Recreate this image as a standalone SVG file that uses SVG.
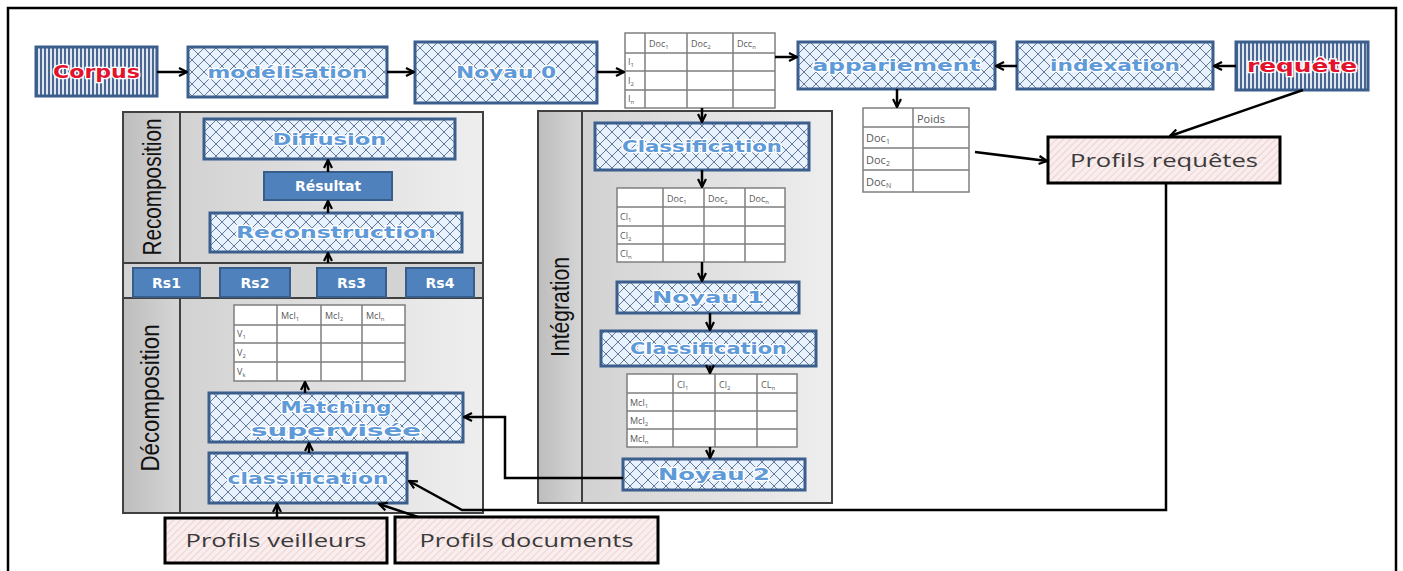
<svg xmlns="http://www.w3.org/2000/svg" width="1403" height="571" viewBox="0 0 1403 571">
<style>
.hb{fill:url(#hatch);stroke:#3b5e8c;stroke-width:3}
.sb{fill:url(#stripe);stroke:#3b5e8c;stroke-width:3}
.pb{fill:url(#pink);stroke:#000;stroke-width:3}
.bb{fill:#4f81bd;stroke:#385d8a;stroke-width:2}
.tb{fill:#fff;stroke:#7f7f7f;stroke-width:1.5}
.tl{stroke:#7f7f7f;stroke-width:1.5;fill:none}
.lb{font-family:"DejaVu Sans",sans-serif;font-weight:bold;font-size:16px;fill:#5f9ad8;stroke:#fff;stroke-width:2.5;paint-order:stroke;text-anchor:middle}
.rd{font-family:"DejaVu Sans",sans-serif;font-weight:bold;font-size:18px;fill:#e3122d;stroke:#fff;stroke-width:2.5;paint-order:stroke;text-anchor:middle}
.bt{font-family:"DejaVu Sans",sans-serif;font-weight:bold;font-size:14px;fill:#fff;text-anchor:middle}
.pt{font-family:"Open Sans",sans-serif;font-size:18px;fill:#3a3a3a;text-anchor:middle}
.tt{font-family:"Open Sans",sans-serif;font-size:9px;fill:#595959}
.tp{font-family:"Open Sans",sans-serif;font-size:11px;fill:#595959}
.pl{font-family:"Liberation Sans",sans-serif;font-size:26px;fill:#111;text-anchor:middle}
.pan{stroke:#404040;stroke-width:2}
.cn{fill:none;stroke:#000;stroke-width:2.5;marker-end:url(#ah)}
</style>
<defs>
<pattern id="hatch" width="12" height="12" patternUnits="userSpaceOnUse">
<rect width="12" height="12" fill="#e8f2fc"/>
<path d="M0,0 L12,12 M12,0 L0,12" stroke="#62779a" stroke-width="1"/>
</pattern>
<pattern id="stripe" width="4" height="4" patternUnits="userSpaceOnUse">
<rect width="4" height="4" fill="#dfe6f0"/>
<rect width="2" height="4" fill="#4a6791"/>
</pattern>
<pattern id="pink" width="5" height="5" patternUnits="userSpaceOnUse" patternTransform="rotate(45)">
<rect width="5" height="5" fill="#f9eded"/>
<path d="M0,0 V5" stroke="#e8c2c2" stroke-width="1.2"/>
</pattern>
<linearGradient id="pg" x1="0" y1="0" x2="1" y2="0">
<stop offset="0" stop-color="#cdcdcd"/>
<stop offset="1" stop-color="#eeeeee"/>
</linearGradient>
<linearGradient id="lg" x1="0" y1="0" x2="1" y2="0">
<stop offset="0" stop-color="#bdbdbd"/>
<stop offset="1" stop-color="#d6d6d6"/>
</linearGradient>
<marker id="ah" viewBox="0 0 10 10" refX="9" refY="5" markerWidth="10" markerHeight="10" markerUnits="userSpaceOnUse" orient="auto">
<path d="M1,1 L9,5 L1,9" fill="none" stroke="#000" stroke-width="2.2"/>
</marker>
</defs>
<rect width="1403" height="571" fill="#fff"/>
<rect x="8" y="8" width="1388" height="600" fill="none" stroke="#000" stroke-width="2.5"/>

<g id="panel-left">
<rect x="123" y="112" width="360" height="401" fill="url(#pg)" class="pan"/>
<rect x="123" y="112" width="57" height="151" fill="url(#lg)" class="pan"/>
<rect x="123" y="298" width="57" height="215" fill="url(#lg)" class="pan"/>
<rect x="123" y="263" width="360" height="35" fill="#d3d3d3" class="pan"/>
<text class="pl" x="161" y="187" transform="rotate(-90 161 187)" textLength="137" lengthAdjust="spacingAndGlyphs">Recomposition</text>
<text class="pl" x="159" y="398" transform="rotate(-90 159 398)" textLength="147" lengthAdjust="spacingAndGlyphs">Décomposition</text>
</g>
<g id="panel-integration">
<rect x="538" y="111" width="294" height="392" fill="url(#pg)" class="pan"/>
<rect x="538" y="111" width="44" height="392" fill="url(#lg)" class="pan"/>
<text class="pl" x="569" y="307" transform="rotate(-90 569 307)" textLength="100" lengthAdjust="spacingAndGlyphs">Intégration</text>
</g>

<g id="corpus"><rect class="sb" x="36" y="47" width="121" height="49"/><text class="rd" x="96.5" y="78" textLength="87" lengthAdjust="spacingAndGlyphs">Corpus</text></g>
<g id="modelisation"><rect class="hb" x="188" y="47" width="199" height="50"/><text class="lb" x="287.5" y="78" textLength="160" lengthAdjust="spacingAndGlyphs">modélisation</text></g>
<g id="noyau0"><rect class="hb" x="415" y="42" width="182" height="61"/><text class="lb" x="506" y="78" textLength="100" lengthAdjust="spacingAndGlyphs">Noyau 0</text></g>
<g id="table-docs">
<rect class="tb" x="625" y="33" width="150" height="75"/>
<path class="tl" d="M645,33 V108 M687,33 V108 M733,33 V108 M625,53 H775 M625,71 H775 M625,90 H775"/>
<text class="tt" x="649" y="47">Doc<tspan font-size="6" dy="2">1</tspan></text>
<text class="tt" x="691" y="47">Doc<tspan font-size="6" dy="2">2</tspan></text>
<text class="tt" x="737" y="47">Dcc<tspan font-size="6" dy="2">n</tspan></text>
<text class="tt" x="628" y="65">I<tspan font-size="6" dy="2">1</tspan></text>
<text class="tt" x="628" y="84">I<tspan font-size="6" dy="2">2</tspan></text>
<text class="tt" x="628" y="102">I<tspan font-size="6" dy="2">n</tspan></text>
</g>
<g id="appariement"><rect class="hb" x="798" y="42" width="197" height="47"/><text class="lb" x="896.5" y="71" textLength="168" lengthAdjust="spacingAndGlyphs">appariement</text></g>
<g id="indexation"><rect class="hb" x="1017" y="42" width="196" height="47"/><text class="lb" x="1115" y="71" textLength="130" lengthAdjust="spacingAndGlyphs">indexation</text></g>
<g id="requete"><rect class="sb" x="1236" y="42" width="132" height="48"/><text class="rd" x="1302" y="72" textLength="110" lengthAdjust="spacingAndGlyphs">requête</text></g>
<g id="table-poids">
<rect class="tb" x="863" y="108" width="106" height="84"/>
<path class="tl" d="M913,108 V192 M863,127 H969 M863,148 H969 M863,170 H969"/>
<text class="tp" x="917" y="123">Poids</text>
<text class="tp" x="866" y="142">Doc<tspan font-size="7" dy="2">1</tspan></text>
<text class="tp" x="866" y="164">Doc<tspan font-size="7" dy="2">2</tspan></text>
<text class="tp" x="866" y="186">Doc<tspan font-size="7" dy="2">N</tspan></text>
</g>
<g id="profils-requetes"><rect class="pb" x="1048" y="137" width="232" height="46"/><text class="pt" x="1164" y="167" textLength="188" lengthAdjust="spacingAndGlyphs">Profils requêtes</text></g>

<g id="diffusion"><rect class="hb" x="204" y="119" width="251" height="40"/><text class="lb" x="329.5" y="145" textLength="114" lengthAdjust="spacingAndGlyphs">Diffusion</text></g>
<g id="resultat"><rect class="bb" x="264" y="172" width="128" height="28"/><text class="bt" x="328" y="191">Résultat</text></g>
<g id="reconstruction"><rect class="hb" x="210" y="213" width="252" height="39"/><text class="lb" x="336" y="238" textLength="200" lengthAdjust="spacingAndGlyphs">Reconstruction</text></g>
<g id="rs1"><rect class="bb" x="133" y="268" width="67" height="29"/><text class="bt" x="166.5" y="288" font-size="15">Rs1</text></g>
<g id="rs2"><rect class="bb" x="220" y="268" width="70" height="29"/><text class="bt" x="255" y="288" font-size="15">Rs2</text></g>
<g id="rs3"><rect class="bb" x="317" y="268" width="69" height="29"/><text class="bt" x="351.5" y="288" font-size="15">Rs3</text></g>
<g id="rs4"><rect class="bb" x="406" y="268" width="68" height="29"/><text class="bt" x="440" y="288" font-size="15">Rs4</text></g>
<g id="table-vmcl">
<rect class="tb" x="234" y="305" width="171" height="76"/>
<path class="tl" d="M277,305 V381 M321,305 V381 M362,305 V381 M234,325 H405 M234,343 H405 M234,362 H405"/>
<text class="tt" x="281" y="319">Mcl<tspan font-size="6" dy="2">1</tspan></text>
<text class="tt" x="325" y="319">Mcl<tspan font-size="6" dy="2">2</tspan></text>
<text class="tt" x="366" y="319">Mcl<tspan font-size="6" dy="2">n</tspan></text>
<text class="tt" x="237" y="337">V<tspan font-size="6" dy="2">1</tspan></text>
<text class="tt" x="237" y="356">V<tspan font-size="6" dy="2">2</tspan></text>
<text class="tt" x="237" y="375">V<tspan font-size="6" dy="2">k</tspan></text>
</g>
<g id="matching"><rect class="hb" x="209" y="393" width="254" height="49"/><text class="lb" x="336" y="413" textLength="111" lengthAdjust="spacingAndGlyphs">Matching</text><text class="lb" x="336" y="436" textLength="170" lengthAdjust="spacingAndGlyphs">supervisée</text></g>
<g id="classification-dec"><rect class="hb" x="209" y="453" width="198" height="50"/><text class="lb" x="308" y="484" textLength="161" lengthAdjust="spacingAndGlyphs">classification</text></g>
<g id="profils-veilleurs"><rect class="pb" x="165" y="518" width="222" height="45"/><text class="pt" x="276" y="547" textLength="181" lengthAdjust="spacingAndGlyphs">Profils veilleurs</text></g>
<g id="profils-documents"><rect class="pb" x="395" y="517" width="263" height="46"/><text class="pt" x="526.5" y="547" textLength="214" lengthAdjust="spacingAndGlyphs">Profils documents</text></g>

<g id="classification-1"><rect class="hb" x="595" y="123" width="214" height="47"/><text class="lb" x="702" y="152" textLength="160" lengthAdjust="spacingAndGlyphs">Classification</text></g>
<g id="table-cldoc">
<rect class="tb" x="617" y="188" width="168" height="74"/>
<path class="tl" d="M663,188 V262 M704,188 V262 M745,188 V262 M617,207 H785 M617,226 H785 M617,244 H785"/>
<text class="tt" x="667" y="202">Doc<tspan font-size="6" dy="2">1</tspan></text>
<text class="tt" x="708" y="202">Doc<tspan font-size="6" dy="2">2</tspan></text>
<text class="tt" x="749" y="202">Doc<tspan font-size="6" dy="2">n</tspan></text>
<text class="tt" x="620" y="220">Cl<tspan font-size="6" dy="2">1</tspan></text>
<text class="tt" x="620" y="239">Cl<tspan font-size="6" dy="2">2</tspan></text>
<text class="tt" x="620" y="257">Cl<tspan font-size="6" dy="2">n</tspan></text>
</g>
<g id="noyau1"><rect class="hb" x="617" y="282" width="182" height="31"/><text class="lb" x="708" y="303" textLength="112" lengthAdjust="spacingAndGlyphs">Noyau 1</text></g>
<g id="classification-2"><rect class="hb" x="601" y="331" width="215" height="35"/><text class="lb" x="708.5" y="354" textLength="157" lengthAdjust="spacingAndGlyphs">Classification</text></g>
<g id="table-mclcl">
<rect class="tb" x="627" y="374" width="170" height="73"/>
<path class="tl" d="M673,374 V447 M715,374 V447 M757,374 V447 M627,393 H797 M627,411 H797 M627,429 H797"/>
<text class="tt" x="677" y="388">Cl<tspan font-size="6" dy="2">1</tspan></text>
<text class="tt" x="719" y="388">Cl<tspan font-size="6" dy="2">2</tspan></text>
<text class="tt" x="761" y="388">CL<tspan font-size="6" dy="2">n</tspan></text>
<text class="tt" x="630" y="406">Mcl<tspan font-size="6" dy="2">1</tspan></text>
<text class="tt" x="630" y="424">Mcl<tspan font-size="6" dy="2">2</tspan></text>
<text class="tt" x="630" y="442">Mcl<tspan font-size="6" dy="2">n</tspan></text>
</g>
<g id="noyau2"><rect class="hb" x="623" y="459" width="182" height="31"/><text class="lb" x="714" y="480" textLength="112" lengthAdjust="spacingAndGlyphs">Noyau 2</text></g>

<g id="connectors">
<path class="cn" d="M157,72 H187"/>
<path class="cn" d="M387,72 H414"/>
<path class="cn" d="M597,72 H624"/>
<path class="cn" d="M775,57 H797"/>
<path class="cn" d="M1017,66 H996"/>
<path class="cn" d="M1236,66 H1214"/>
<path class="cn" d="M897,89 V107"/>
<path class="cn" d="M1303,90 L1170,136"/>
<path class="cn" d="M975,152 L1047,161"/>
<path class="cn" d="M702,108 V122"/>
<path class="cn" d="M702,170 V187"/>
<path class="cn" d="M702,262 V281"/>
<path class="cn" d="M710,313 V330"/>
<path class="cn" d="M710,366 V373"/>
<path class="cn" d="M710,447 V458"/>
<path class="cn" d="M623,478 H505 V417 H464"/>
<path class="cn" d="M1166,183 V510 H462 L409,481" stroke-width="3"/>
<path class="cn" d="M418,517 L379,504"/>
<path class="cn" d="M277,518 V504"/>
<path class="cn" d="M309,453 V443"/>
<path class="cn" d="M305,393 V382"/>
<path class="cn" d="M328,263 V253"/>
<path class="cn" d="M328,213 V201"/>
<path class="cn" d="M328,172 V160"/>
</g>
</svg>
